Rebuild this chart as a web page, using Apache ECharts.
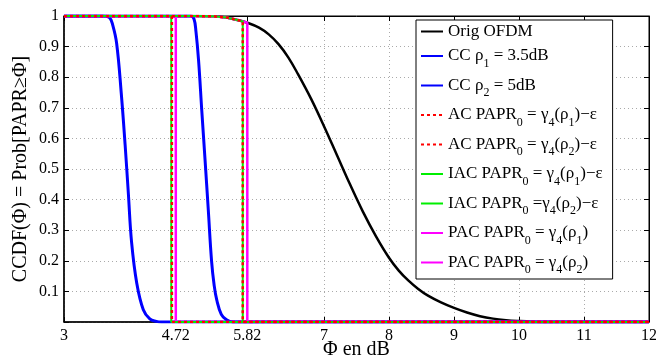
<!DOCTYPE html>
<html><head><meta charset="utf-8">
<script src="https://cdn.jsdelivr.net/npm/echarts@6/dist/echarts.min.js"></script>
<style>html,body{margin:0;padding:0;background:#fff}#c{width:656px;height:361px}</style>
</head><body><div id="c"></div>
<script>
// ---- data ----
const xTicks = [3, 4.72, 5.82, 7, 8, 9, 10, 11, 12];
const seriesNames = ['Orig OFDM', 'CC ρ1 = 3.5dB', 'CC ρ2 = 5dB', 'AC PAPR0 = γ4(ρ1)−ε', 'AC PAPR0 = γ4(ρ2)−ε',
  'IAC PAPR0 = γ4(ρ1)−ε', 'IAC PAPR0 =γ4(ρ2)−ε', 'PAC PAPR0 = γ4(ρ1)', 'PAC PAPR0 = γ4(ρ2)'];
const origX = [3, 5.0, 5.3, 5.5, 5.65, 5.82, 6.0, 6.15, 6.3, 6.45, 6.6, 6.8, 7.0, 7.2, 7.4, 7.6, 7.8, 8.0, 8.15, 8.3, 8.45, 8.6, 8.8, 9.0, 9.2, 9.4, 9.6, 9.8, 10.0, 10.2, 10.5, 12];
const origY = [1, 1, 0.999, 0.995, 0.988, 0.978, 0.962, 0.94, 0.908, 0.865, 0.81, 0.73, 0.64, 0.545, 0.45, 0.36, 0.28, 0.21, 0.168, 0.135, 0.108, 0.086, 0.064, 0.046, 0.031, 0.019, 0.011, 0.006, 0.003, 0.001, 0, 0];
const cc1X = [3, 3.6, 3.7, 3.75, 3.81, 3.88, 3.94, 3.99, 4.04, 4.12, 4.22, 4.32, 4.42, 4.5, 12];
const cc1Y = [1, 1, 0.995, 0.97, 0.91, 0.75, 0.58, 0.42, 0.26, 0.126, 0.04, 0.01, 0.002, 0, 0];
const cc2X = [3, 4.95, 5.0, 5.03, 5.07, 5.12, 5.17, 5.22, 5.27, 5.31, 5.35, 5.42, 5.5, 5.6, 12];
const cc2Y = [1, 1, 0.99, 0.95, 0.856, 0.69, 0.53, 0.366, 0.2, 0.12, 0.072, 0.025, 0.007, 0, 0];
const ac1X = [3, 4.66, 4.66, 12];
const ac1Y = [1, 1, 0, 0];
const ac2X = [3, 5.0, 5.3, 5.5, 5.65, 5.75, 5.75, 12];
const ac2Y = [1, 1, 0.999, 0.995, 0.988, 0.982, 0, 0];
const iac1X = [3, 4.65, 4.65, 12];
const iac1Y = [1, 1, 0, 0];
const iac2X = [3, 5.0, 5.3, 5.5, 5.65, 5.75, 5.75, 12];
const iac2Y = [1, 1, 0.999, 0.995, 0.988, 0.982, 0, 0];
const pac1X = [3, 4.72, 4.72, 12];
const pac1Y = [1, 1, 0, 0];
const pac2X = [3, 5.0, 5.3, 5.5, 5.65, 5.82, 5.82, 12];
const pac2Y = [1, 1, 0.999, 0.995, 0.988, 0.978, 0, 0];

const legendRich = {
  'Orig OFDM': '{n|Orig OFDM}',
  'CC ρ1 = 3.5dB': '{n|CC ρ}{s|1}{n| = 3.5dB}',
  'CC ρ2 = 5dB': '{n|CC ρ}{s|2}{n| = 5dB}',
  'AC PAPR0 = γ4(ρ1)−ε': '{n|AC PAPR}{s|0}{n| = γ}{s|4}{n|(ρ}{s|1}{n|)−ε}',
  'AC PAPR0 = γ4(ρ2)−ε': '{n|AC PAPR}{s|0}{n| = γ}{s|4}{n|(ρ}{s|2}{n|)−ε}',
  'IAC PAPR0 = γ4(ρ1)−ε': '{n|IAC PAPR}{s|0}{n| = γ}{s|4}{n|(ρ}{s|1}{n|)−ε}',
  'IAC PAPR0 =γ4(ρ2)−ε': '{n|IAC PAPR}{s|0}{n| =γ}{s|4}{n|(ρ}{s|2}{n|)−ε}',
  'PAC PAPR0 = γ4(ρ1)': '{n|PAC PAPR}{s|0}{n| = γ}{s|4}{n|(ρ}{s|1}{n|)}',
  'PAC PAPR0 = γ4(ρ2)': '{n|PAC PAPR}{s|0}{n| = γ}{s|4}{n|(ρ}{s|2}{n|)}'
};

function zip(xs, ys) { return xs.map((x, i) => [x, ys[i]]); }

const FONT = 'Liberation Serif';
const chart = echarts.init(document.getElementById('c'), null, {renderer: 'canvas'});

const styles = [
  {color: '#000000', width: 2.5, type: 'solid', z: 2},
  {color: '#0000ff', width: 3, type: 'solid', z: 2},
  {color: '#0000ff', width: 3, type: 'solid', z: 2},
  {color: '#ff0000', width: 2.5, type: [3, 3], z: 6},
  {color: '#ff0000', width: 2.5, type: [3, 3], z: 6},
  {color: '#00ee00', width: 2, type: 'solid', z: 4},
  {color: '#00ee00', width: 2, type: 'solid', z: 4},
  {color: '#ff00ff', width: 2.5, type: 'solid', z: 3},
  {color: '#ff00ff', width: 2.5, type: 'solid', z: 3}
];
const datasets = [zip(origX, origY), zip(cc1X, cc1Y), zip(cc2X, cc2Y), zip(ac1X, ac1Y), zip(ac2X, ac2Y),
  zip(iac1X, iac1Y), zip(iac2X, iac2Y), zip(pac1X, pac1Y), zip(pac2X, pac2Y)];

const series = seriesNames.map((name, i) => ({
  name: name,
  type: 'line',
  data: datasets[i],
  symbol: 'none',
  showSymbol: false,
  smooth: (i < 3) ? 0.4 : false,
  z: styles[i].z,
  color: styles[i].color,
  lineStyle: {color: styles[i].color, width: styles[i].width, type: styles[i].type},
  animation: false
}));

const axisCommon = {
  type: 'value',
  min: 3, max: 12
};

chart.setOption({
  animation: false,
  grid: {left: 64, right: 7, top: 16, bottom: 39, show: true, borderColor: '#000', borderWidth: 1,
    outerBoundsMode: 'none', containLabel: false},
  legend: {
    orient: 'vertical',
    left: 416, top: 20,
    padding: [3, 10, 3, 4],
    itemGap: 7.5,
    itemWidth: 22, itemHeight: 10,
    itemStyle: {opacity: 0, borderWidth: 0},
    backgroundColor: '#fff',
    borderColor: '#000', borderWidth: 1, borderRadius: 0,
    data: seriesNames,
    formatter: name => legendRich[name],
    textStyle: {
      fontFamily: FONT, fontSize: 17, color: '#000',
      rich: {
        n: {fontFamily: FONT, fontSize: 17, color: '#000', lineHeight: 17, verticalAlign: 'top'},
        s: {fontFamily: FONT, fontSize: 12, color: '#000', lineHeight: 15, padding: [10, 0, 0, 0], verticalAlign: 'top'}
      }
    }
  },
  xAxis: [{
    ...axisCommon,
    position: 'bottom',
    name: 'Φ en dB', nameLocation: 'middle', nameGap: 18, nameMoveOverlap: false,
    nameTextStyle: {fontFamily: FONT, fontSize: 20, color: '#000'},
    axisLine: {show: true, onZero: false, lineStyle: {color: '#000', width: 1.5}},
    axisTick: {show: true, inside: true, length: 5, customValues: xTicks, lineStyle: {color: '#000'}},
    axisLabel: {customValues: xTicks, fontFamily: FONT, fontSize: 16, color: '#000', margin: 6,
      formatter: v => String(v)},
    splitLine: {show: true, lineStyle: {color: '#aaa', type: [1, 3], width: 1}}
  }, {
    ...axisCommon,
    position: 'top',
    axisLine: {show: true, onZero: false, lineStyle: {color: '#000', width: 1}},
    axisTick: {show: true, inside: true, length: 5, customValues: xTicks, lineStyle: {color: '#000'}},
    axisLabel: {show: false},
    splitLine: {show: false}
  }],
  yAxis: [{
    type: 'value', min: 0, max: 1, interval: 0.1,
    position: 'left',
    name: 'CCDF(Φ) = Prob[PAPR≥Φ]', nameLocation: 'middle', nameGap: 33, nameMoveOverlap: false,
    nameTextStyle: {fontFamily: FONT, fontSize: 20, color: '#000'},
    axisLine: {show: true, onZero: false, lineStyle: {color: '#000', width: 1.5}},
    axisTick: {show: true, inside: true, length: 5, lineStyle: {color: '#000'}},
    axisLabel: {fontFamily: FONT, fontSize: 16, color: '#000', margin: 5,
      formatter: v => (v === 0 ? '' : String(Math.round(v * 10) / 10))},
    splitLine: {show: true, lineStyle: {color: '#aaa', type: [1, 3], width: 1}}
  }, {
    type: 'value', min: 0, max: 1, interval: 0.1,
    position: 'right',
    axisLine: {show: true, onZero: false, lineStyle: {color: '#000', width: 1}},
    axisTick: {show: true, inside: true, length: 5, lineStyle: {color: '#000'}},
    axisLabel: {show: false},
    splitLine: {show: false}
  }],
  series: series
});
</script>
</body></html>
